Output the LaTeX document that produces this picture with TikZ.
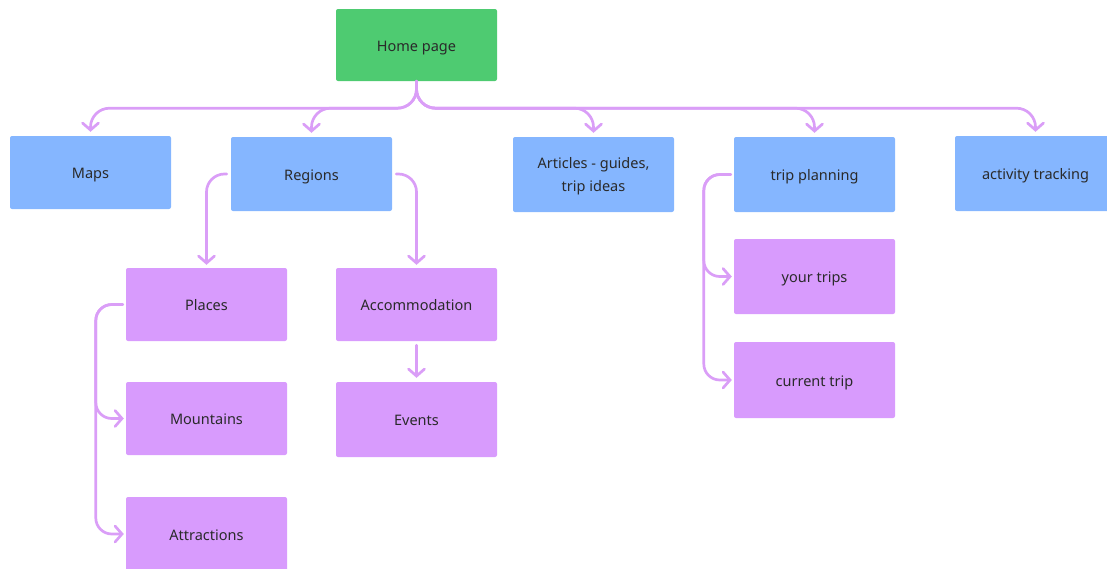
\documentclass[tikz,border=0pt]{standalone}
\usepackage{fontspec}
\setmainfont{Noto Sans}
\usetikzlibrary{arrows.meta}
\definecolor{hgreen}{HTML}{4ECB71}
\definecolor{hblue}{HTML}{85B6FF}
\definecolor{hpurple}{HTML}{D89BFD}
\definecolor{hline}{HTML}{DA9EF7}
\definecolor{htext}{HTML}{2A2A2A}
\begin{document}
\begin{tikzpicture}[x=1pt,y=-1pt,
  boxbase/.style={rectangle, rounded corners=2pt, minimum width=161pt, inner sep=0pt,
    text=htext, font=\fontsize{14.5}{22.5}\selectfont, align=center, text depth=0pt},
  box/.style={boxbase, text height=12pt},
  gbox/.style={box, fill=hgreen},
  bbox/.style={box, fill=hblue},
  pbox/.style={box, fill=hpurple},
  mbox/.style={boxbase, fill=hblue},
  conn/.style={draw=hline, line width=2.7pt, rounded corners=19pt, line cap=round,
    -{Straight Barb[length=7pt,width=16pt,line cap=round]}},
]
\useasboundingbox (0,0) rectangle (1107,568);
\clip (0,0) rectangle (1107,568);

\node[gbox, minimum height=72pt] (home) at (416.5,45) {Home page};
\node[bbox, minimum height=73pt] (maps) at (90.5,172.5) {Maps};
\node[bbox, minimum height=74pt] (regions) at (311.5,174) {Regions};
\node[mbox, minimum height=75pt] (articles) at (593.5,174.5) {Articles - guides,\\trip ideas};
\node[bbox, minimum height=75pt] (tp) at (814.5,174.5) {trip planning};
\node[bbox, minimum height=75pt] (act) at (1035.5,173.5) {activity tracking};
\node[pbox, minimum height=73pt] (places) at (206.5,304.5) {Places};
\node[pbox, minimum height=73pt] (accom) at (416.5,304.5) {Accommodation};
\node[pbox, minimum height=73pt] (mount) at (206.5,418.5) {Mountains};
\node[pbox, minimum height=75pt] (events) at (416.5,419.5) {Events};
\node[pbox, minimum height=74pt] (attr) at (206.5,534) {Attractions};
\node[pbox, minimum height=75pt] (yt) at (814.5,276.5) {your trips};
\node[pbox, minimum height=76pt] (ct) at (814.5,380) {current trip};

\foreach \t in {maps,regions,articles,tp,act}
  \draw[conn, shorten >=4pt] (home.south) -- ++(0,27) -| (\t.north);

\draw[conn, rounded corners=18pt, shorten <=4pt, shorten >=3pt] (regions.west) -| (places.north);
\draw[conn, rounded corners=18pt, shorten <=4pt, shorten >=3pt] (regions.east) -| (accom.north);
\draw[conn, shorten <=4pt, shorten >=4pt] (accom.south) -- (events.north);

\draw[conn, rounded corners=16pt, shorten <=3pt, shorten >=2pt] (places.west) -- ++(-30,0) |- (mount.west);
\draw[conn, rounded corners=16pt, shorten <=3pt, shorten >=2pt] (places.west) -- ++(-30,0) |- (attr.west);
\draw[conn, rounded corners=16pt, shorten <=3pt, shorten >=2pt] (tp.west) -- ++(-30,0) |- (yt.west);
\draw[conn, rounded corners=16pt, shorten <=3pt, shorten >=2pt] (tp.west) -- ++(-30,0) |- (ct.west);
\end{tikzpicture}
\end{document}
